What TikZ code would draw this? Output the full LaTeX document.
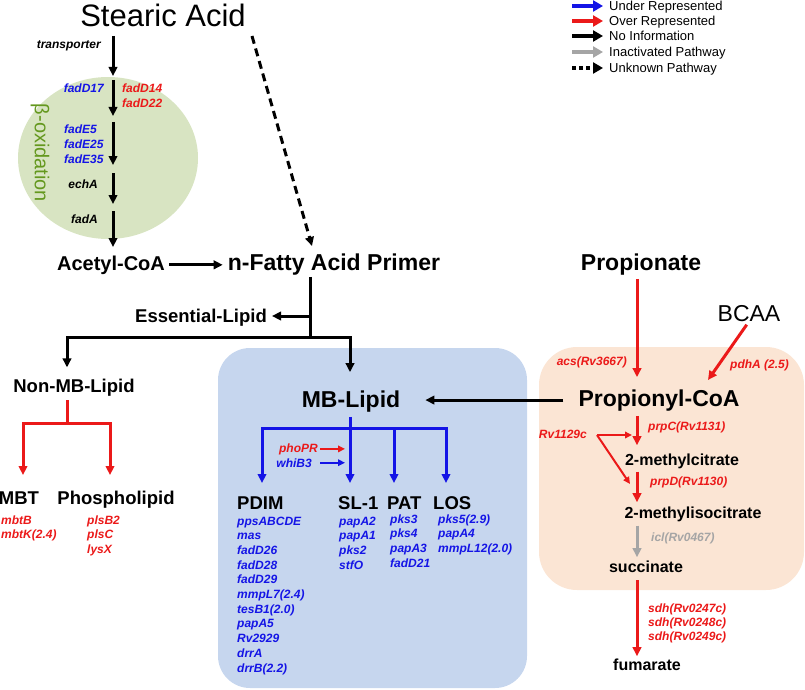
\documentclass[tikz,border=0pt]{standalone}
\usepackage{fontspec}
\setmainfont{Liberation Sans}
\usetikzlibrary{arrows.meta}

\definecolor{underblue}{RGB}{20,20,230}
\definecolor{overred}{RGB}{235,25,25}
\definecolor{inactgray}{RGB}{165,165,165}
\definecolor{oxgreen}{RGB}{216,228,194}
\definecolor{oxtext}{RGB}{100,152,30}
\definecolor{mbblue}{RGB}{198,214,238}
\definecolor{prpeach}{RGB}{251,229,212}

\begin{document}
\begin{tikzpicture}[x=1pt, y=-1pt,
  flow/.style={line width=3pt, -{Triangle[length=9pt,width=8.5pt]}},
  under/.style={flow, underblue},
  over/.style={flow, overred},
  inact/.style={flow, inactgray},
  unknown/.style={flow, dash pattern=on 8pt off 5pt},
  reg/.style={line width=2pt, -{Triangle[length=7pt,width=6.5pt]}},
  legend/.style={line width=4pt, -{Triangle[length=10pt,width=11pt]}},
  legsolid/.style={},
  legdash/.style={dash pattern=on 4pt off 3pt},
  gene/.style={inner sep=0pt, font=\fontsize{12}{14}\selectfont\bfseries\itshape},
  bigmet/.style={inner sep=0pt, font=\fontsize{23}{27}\selectfont\bfseries},
  lipid/.style={inner sep=0pt, font=\fontsize{18.5}{22}\selectfont\bfseries},
  metab/.style={inner sep=0pt, font=\fontsize{16}{19}\selectfont\bfseries}]
  \useasboundingbox (0,0) rectangle (805,690);

  % Background areas
  \fill[oxgreen] (108,158) ellipse [x radius=90pt, y radius=81pt];
  \fill[mbblue, rounded corners=32pt] (218,348) rectangle (527,688);
  \fill[prpeach, rounded corners=38pt] (539,347) rectangle (804,590);

  % Legend
  \foreach \c/\s/\yy/\t [count=\i] in {underblue/legsolid/6/Under Represented,
      overred/legsolid/21/Over Represented, black/legsolid/36/No Information,
      inactgray/legsolid/52/Inactivated Pathway, black/legdash/68/Unknown Pathway} {
    \coordinate (lega\i) at (572,\yy);
    \coordinate (legb\i) at (603,\yy);
    \draw[legend, \c, \s] (lega\i) -- (legb\i);
    \node[inner sep=0pt, font=\fontsize{13}{15}\selectfont, anchor=base west] (legt\i) at (609,\yy+4.5) {\t};
  }

  % Stearic acid and beta-oxidation
  \node[inner sep=0pt, font=\fontsize{31}{36}\selectfont, anchor=base] (stearic) at (163,27) {Stearic Acid};
  \node[inner sep=0pt, font=\fontsize{20}{24}\selectfont, text=oxtext, rotate=-90] (betaox) at (40,153) {β-oxidation};
  \foreach \a/\b [count=\i] in {36/76, 80/116, 122/165, 173/204, 211/247} {
    \coordinate (oxa\i) at (113,\a);
    \coordinate (oxb\i) at (113,\b);
    \draw[flow] (oxa\i) -- (oxb\i);
  }
  \node[gene, anchor=base east] (transp) at (101,49) {transporter};
  \node[gene, text=underblue, anchor=base east] (fadd17) at (104,93) {fadD17};
  \node[gene, text=overred, anchor=base west] (fadd14) at (122,93) {fadD14};
  \node[gene, text=overred, anchor=base west] (fadd22) at (122,108) {fadD22};
  \foreach \g [count=\i] in {fadE5, fadE25, fadE35}
    \node[gene, text=underblue, anchor=base west] (fade\i) at (64,{133+15*(\i-1)}) {\g};
  \node[gene, anchor=base east] (echa) at (98,188) {echA};
  \node[gene, anchor=base east] (fada) at (98,223) {fadA};

  % Primer
  \node[inner sep=0pt, font=\fontsize{20}{24}\selectfont\bfseries, anchor=base] (acetyl) at (111,270) {Acetyl-CoA};
  \node[bigmet, anchor=base] (fatty) at (334,270) {n-Fatty Acid Primer};
  \draw[flow, shorten <=4pt, shorten >=5pt] (acetyl.east) -- (acetyl.east -| fatty.west);
  \coordinate (unka) at (252,36);
  \coordinate (unkb) at (312,246);
  \draw[unknown] (unka) -- (unkb);

  % Split into lipids
  \coordinate (trunk) at (310,337);
  \coordinate (esspt) at (310,316);
  \coordinate (nmtop) at (67,337);
  \coordinate (mbtop) at (350,337);
  \node[lipid, anchor=base east] (essential) at (267,322) {Essential-Lipid};
  \node[lipid, anchor=base] (nonmb) at (74,392) {Non-MB-Lipid};
  \node[bigmet, anchor=base] (mblipid) at (351,407) {MB-Lipid};
  \draw[flow, -, shorten <=2pt] (fatty.south -| trunk) -- (trunk);
  \draw[flow, shorten >=5pt] (esspt) -- (esspt -| essential.east);
  \draw[flow, shorten >=11pt] (trunk) -- (nmtop) -- (nmtop |- nonmb.north);
  \draw[flow, shorten >=18pt] (trunk) -- (mbtop) -- (mbtop |- mblipid.north);

  % Non-MB lipids
  \coordinate (nmfork) at (67,423);
  \coordinate (mbtin) at (23,475);
  \coordinate (phosin) at (110,475);
  \draw[over, -, shorten <=4pt] (nonmb.south -| nmfork) -- (nmfork);
  \draw[over] (nmfork) -| (mbtin);
  \draw[over] (nmfork) -| (phosin);
  \node[lipid, anchor=base] (mbt) at (19,504) {MBT};
  \node[lipid, anchor=base] (phos) at (116,504) {Phospholipid};
  \foreach \g [count=\i] in {mbtB, mbtK(2.4)}
    \node[gene, text=overred, anchor=base west] (mbtg\i) at (1,{524+14.7*(\i-1)}) {\g};
  \foreach \g [count=\i] in {plsB2, plsC, lysX}
    \node[gene, text=overred, anchor=base west] (phosg\i) at (87,{524+14.7*(\i-1)}) {\g};

  % MB lipids
  \coordinate (mbfork) at (350,428);
  \coordinate (pdimin) at (262,483);
  \coordinate (slin) at (350,483);
  \coordinate (patin) at (394,483);
  \coordinate (losin) at (446,483);
  \draw[under] ([yshift=-5pt]mblipid.south -| mbfork) -- (slin);
  \draw[under] (mbfork) -| (pdimin);
  \draw[under] (mbfork) -| (patin);
  \draw[under] (mbfork) -| (losin);
  \node[gene, text=overred, anchor=base east] (phopr) at (318,452) {phoPR};
  \node[gene, text=underblue, anchor=base east] (whib) at (312,467) {whiB3};
  \draw[reg, overred, shorten <=2pt, shorten >=5pt] (phopr.east) -- (phopr.east -| slin);
  \draw[reg, underblue, shorten <=8pt, shorten >=5pt] (whib.east) -- (whib.east -| slin);
  \node[lipid, anchor=base west] (pdim) at (237,509) {PDIM};
  \node[lipid, anchor=base west] (sl) at (338,509) {SL-1};
  \node[lipid, anchor=base west] (pat) at (387,509) {PAT};
  \node[lipid, anchor=base west] (los) at (433,509) {LOS};
  \foreach \g [count=\i] in {ppsABCDE, mas, fadD26, fadD28, fadD29, mmpL7(2.4), tesB1(2.0), papA5, Rv2929, drrA, drrB(2.2)}
    \node[gene, text=underblue, anchor=base west] (pdimg\i) at (237,{525+14.7*(\i-1)}) {\g};
  \foreach \g [count=\i] in {papA2, papA1, pks2, stfO}
    \node[gene, text=underblue, anchor=base west] (slg\i) at (339,{525+14.7*(\i-1)}) {\g};
  \foreach \g [count=\i] in {pks3, pks4, papA3, fadD21}
    \node[gene, text=underblue, anchor=base west] (patg\i) at (390,{523+14.7*(\i-1)}) {\g};
  \foreach \g [count=\i] in {pks5(2.9), papA4, mmpL12(2.0)}
    \node[gene, text=underblue, anchor=base west] (losg\i) at (438,{523+14.7*(\i-1)}) {\g};

  % Propionate pathway
  \coordinate (rx) at (637,0);
  \node[bigmet, anchor=base] (propionate) at (641,270) {Propionate};
  \node[bigmet, anchor=base] (propcoa) at (659,406) {Propionyl-CoA};
  \node[inner sep=0pt, font=\fontsize{23}{27}\selectfont, anchor=base] (bcaa) at (749,321) {BCAA};
  \coordinate (bcaain) at (708,380);
  \draw[over, shorten <=4pt, shorten >=12pt] (propionate.south -| rx) -- (propcoa.north -| rx);
  \draw[over, shorten <=4pt] (bcaa.south) -- (bcaain);
  \node[gene, text=overred, anchor=base east] (acs) at (627,365) {acs(Rv3667)};
  \node[gene, text=overred, anchor=base west] (pdha) at (730,368) {pdhA (2.5)};
  \draw[flow, shorten <=15pt, shorten >=25pt] (propcoa.west) -- (propcoa.west -| mblipid.east);

  \node[metab, anchor=base] (mcit) at (682,465) {2-methylcitrate};
  \node[metab, anchor=base] (micit) at (693,518) {2-methylisocitrate};
  \node[metab, anchor=base] (succ) at (646,572) {succinate};
  \node[metab, anchor=base] (fum) at (647,670) {fumarate};
  \draw[over, shorten <=5pt, shorten >=8pt] (propcoa.south -| rx) -- (mcit.north -| rx);
  \draw[over, shorten <=3pt, shorten >=4pt] (mcit.south -| rx) -- (micit.north -| rx);
  \draw[inact, shorten <=4pt, shorten >=3pt] (micit.south -| rx) -- (succ.north -| rx);
  \draw[over, shorten <=8pt, shorten >=2pt] (succ.south -| rx) -- (fum.north -| rx);
  \node[gene, text=overred, anchor=base west] (prpc) at (648,430) {prpC(Rv1131)};
  \node[gene, text=overred, anchor=base west] (prpd) at (650,485) {prpD(Rv1130)};
  \node[gene, text=inactgray, anchor=base west] (icl) at (651,541) {icl(Rv0467)};
  \foreach \g [count=\i] in {sdh(Rv0247c), sdh(Rv0248c), sdh(Rv0249c)}
    \node[gene, text=overred, anchor=base west] (sdh\i) at (648,{612+14.3*(\i-1)}) {\g};

  % Rv1129c regulation
  \node[gene, text=overred, anchor=base east] (rvreg) at (587,438) {Rv1129c};
  \coordinate (rvfork) at (597,435);
  \coordinate (rvcin) at (632,435);
  \coordinate (rvdin) at (630,484);
  \draw[reg, overred] (rvfork) -- (rvcin);
  \draw[reg, overred] (rvfork) -- (rvdin);
\end{tikzpicture}
\end{document}
